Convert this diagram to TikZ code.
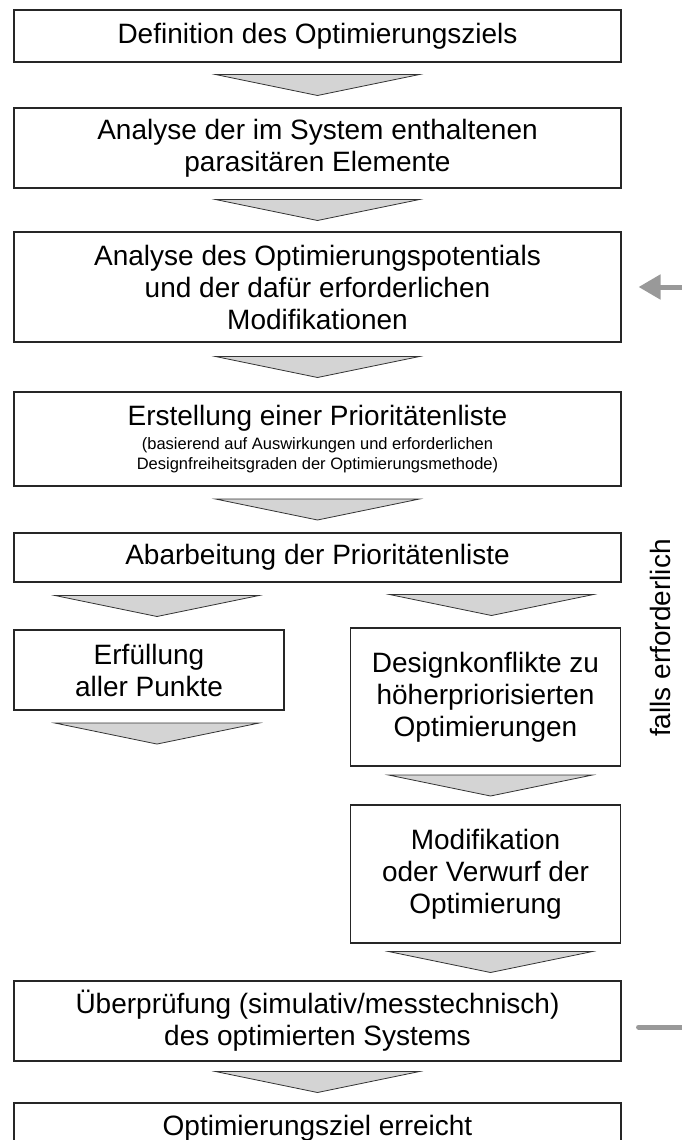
\documentclass[tikz,border=0pt]{standalone}
\usepackage{fontspec}
\setmainfont{Liberation Sans}
\usetikzlibrary{arrows.meta,calc}

\tikzset{
  stepbox/.style={draw=black!85,line width=1.1pt,align=center,inner sep=0pt,font=\fontsize{28}{32}\selectfont},
  wide/.style={stepbox,minimum width=607pt},
  narrow/.style={stepbox,minimum width=270pt},
  darr/.pic={\filldraw[fill=black!17,draw=black!80,line width=0.8pt] (-102,-10.5) -- (102,-10.5) -- (0,10.5) -- cycle;},
  loopline/.style={draw=black!40,line width=5pt}
}

\begin{document}
\begin{tikzpicture}[x=1pt,y=-1pt]
\useasboundingbox (0,0) rectangle (681,1140);
\node[wide,minimum height=52pt] (def) at (317.5,36) {Definition des Optimierungsziels};
\node[wide,minimum height=80pt] (para) at (317.5,148) {Analyse der im System enthaltenen\\parasitären Elemente};
\node[wide,minimum height=110pt] (pot) at (317.5,287) {Analyse des Optimierungspotentials\\und der dafür erforderlichen\\Modifikationen};
\node[wide,minimum height=94pt] (prio) at (317.5,439) {Erstellung einer Prioritätenliste\\[-8pt]\fontsize{16.5}{20}\selectfont (basierend auf Auswirkungen und erforderlichen\\[-12pt]\fontsize{16.5}{20}\selectfont Designfreiheitsgraden der Optimierungsmethode)};
\node[wide,minimum height=49pt] (abarb) at (317.5,557.5) {Abarbeitung der Prioritätenliste};
\node[narrow,minimum height=80pt] (erf) at (149,670) {Erfüllung\\aller Punkte};
\node[narrow,minimum height=138pt] (konf) at (485.5,697) {Designkonflikte zu\\höherpriorisierten\\Optimierungen};
\node[narrow,minimum height=138pt] (mod) at (485.5,874) {Modifikation\\oder Verwurf der\\Optimierung};
\node[wide,minimum height=80pt] (pruef) at (317.5,1021) {Überprüfung (simulativ/messtechnisch)\\des optimierten Systems};
\node[wide,minimum height=50pt] (ziel) at (317.5,1128) {Optimierungsziel erreicht};
\node[rotate=90,font=\fontsize{28}{32}\selectfont] (falls) at (660,638) {falls erforderlich};
\pic at ($(def.south)!.5!(para.north)$) {darr};
\pic at ($(para.south)!.5!(pot.north)$) {darr};
\pic at ($(pot.south)!.5!(prio.north)$) {darr};
\pic at ($(prio.south)!.5!(abarb.north)$) {darr};
\pic at ($(erf.north |- abarb.south)!.5!(erf.north)+(8,0)$) {darr};
\pic at ($(konf.north |- abarb.south)!.5!(konf.north)+(6,0)$) {darr};
\pic at ($(erf.south)+(8,23)$) {darr};
\pic at ($(konf.south)!.5!(mod.north)+(5,0)$) {darr};
\pic at ($(mod.south)!.5!(mod.south |- pruef.north)+(5,0)$) {darr};
\pic at ($(pruef.south)!.5!(ziel.north)$) {darr};
\coordinate (fbtop) at (690,287);
\coordinate (fbbot) at (690,1027);
\draw[loopline,-{Triangle[length=22pt,width=24pt]}] (fbtop) -- ([xshift=17pt]pot.east);
\draw[loopline,line cap=round] ([xshift=17pt,yshift=-6pt]pruef.east) -- (fbbot);
\end{tikzpicture}
\end{document}
